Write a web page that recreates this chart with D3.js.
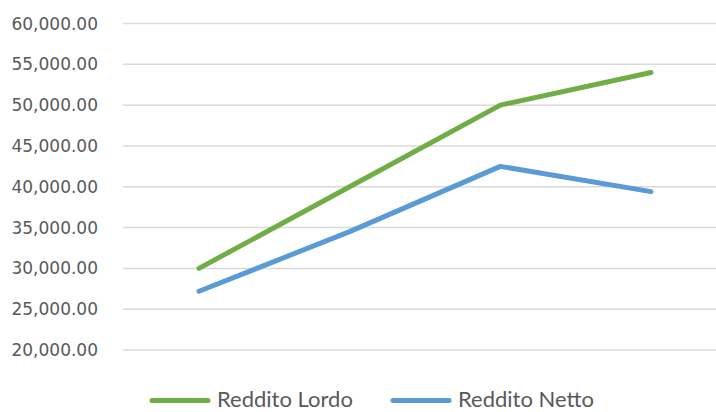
<!DOCTYPE html>
<html>
<head>
<meta charset="utf-8">
<script src="https://cdn.jsdelivr.net/npm/d3@7"></script>
<style>
  html, body { margin: 0; padding: 0; background: #fff; }
  svg { display: block; }
</style>
</head>
<body>
<svg id="chart" width="716" height="412"></svg>
<script>
// Income by period: gross vs. net
const categories = ["1", "2", "3", "4"];
const redditoLordo = [30000, 40000, 50000, 54000];
const redditoNetto = [27200, 34500, 42500, 39400];
const yTicks = [20000, 25000, 30000, 35000, 40000, 45000, 50000, 55000, 60000];

const series = [
  { name: "Reddito Lordo", values: redditoLordo, color: "#70AD47" },
  { name: "Reddito Netto", values: redditoNetto, color: "#5B9BD5" }
];

const W = 716, H = 412;
const svg = d3.select("#chart");

const x = d3.scalePoint()
  .domain(categories)
  .range([199, 651]);

const y = d3.scaleLinear()
  .domain([20000, 60000])
  .range([350, 23.5]);

const fmt = d3.format(",.2f");

// horizontal gridlines
svg.append("g")
  .selectAll("line")
  .data(yTicks)
  .join("line")
  .attr("x1", 123)
  .attr("x2", W)
  .attr("y1", d => y(d))
  .attr("y2", d => y(d))
  .attr("stroke", "#D9D9D9")
  .attr("stroke-width", 1.5);

// y axis labels
svg.append("g")
  .selectAll("text")
  .data(yTicks)
  .join("text")
  .attr("x", 98)
  .attr("y", d => y(d))
  .attr("dy", "0.36em")
  .attr("text-anchor", "end")
  .attr("font-family", "DejaVu Sans, sans-serif")
  .attr("font-size", 17)
  .attr("fill", "#595959")
  .text(d => fmt(d));

// series lines
const line = d3.line()
  .x((d, i) => x(categories[i]))
  .y(d => y(d));

svg.append("g")
  .selectAll("path")
  .data(series)
  .join("path")
  .attr("d", d => line(d.values))
  .attr("fill", "none")
  .attr("stroke", d => d.color)
  .attr("stroke-width", 5)
  .attr("stroke-linecap", "round")
  .attr("stroke-linejoin", "round");

// legend
const legendX = [152, 393];
const legend = svg.append("g")
  .selectAll("g")
  .data(series)
  .join("g")
  .attr("transform", (d, i) => `translate(${legendX[i]},400.5)`);

legend.append("line")
  .attr("x1", 0)
  .attr("x2", 56)
  .attr("stroke", d => d.color)
  .attr("stroke-width", 5)
  .attr("stroke-linecap", "round");

legend.append("text")
  .attr("x", 65)
  .attr("y", 6.5)
  .attr("font-family", "Lato, sans-serif")
  .attr("font-size", 22)
  .attr("fill", "#595959")
  .text(d => d.name);
</script>
</body>
</html>
